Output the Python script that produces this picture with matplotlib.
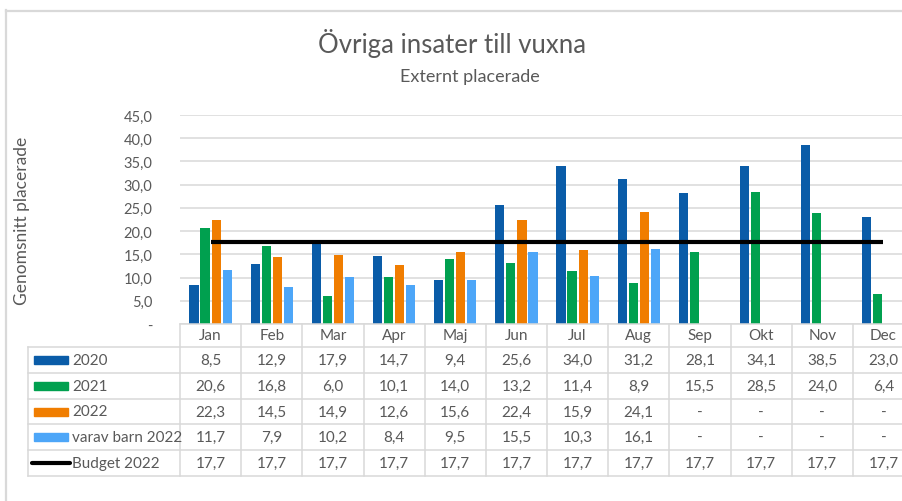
import matplotlib.pyplot as plt
from matplotlib.lines import Line2D
from matplotlib.patches import Rectangle

plt.rcParams['font.family'] = ['Lato', 'DejaVu Sans']

months = ["Jan", "Feb", "Mar", "Apr", "Maj", "Jun", "Jul", "Aug", "Sep", "Okt", "Nov", "Dec"]
v2020 = [8.5, 12.9, 17.9, 14.7, 9.4, 25.6, 34.0, 31.2, 28.1, 34.1, 38.5, 23.0]
v2021 = [20.6, 16.8, 6.0, 10.1, 14.0, 13.2, 11.4, 8.9, 15.5, 28.5, 24.0, 6.4]
v2022 = [22.3, 14.5, 14.9, 12.6, 15.6, 22.4, 15.9, 24.1, None, None, None, None]
barn2022 = [11.7, 7.9, 10.2, 8.4, 9.5, 15.5, 10.3, 16.1, None, None, None, None]
budget = [17.7] * 12

bar_series = [
    ("2020", v2020, "#0a5ca8"),
    ("2021", v2021, "#00a04f"),
    ("2022", v2022, "#f07d00"),
    ("varav barn 2022", barn2022, "#4da6f8"),
]

TXT = "#595959"
GRID = "#d9d9d9"
W, H = 903, 502


def box(x0, y0, x1, y1):
    # pixel box (top-left origin) -> figure fraction
    return [x0 / W, 1 - y1 / H, (x1 - x0) / W, (y1 - y0) / H]


fig = plt.figure(figsize=(W / 100, H / 100), dpi=100)

# ram runt diagrammet
fig.add_artist(Line2D([6 / W, 1], [1 - 11.5 / H] * 2, color=GRID, lw=1.6))
fig.add_artist(Line2D([6.5 / W] * 2, [0, 1 - 11 / H], color=GRID, lw=1.6))

# plot area
left_px, right_px = 180, 914
colw = (right_px - left_px) / 12
ax = fig.add_axes(box(left_px, 116, right_px, 325))
ax.set_xlim(-0.5, 11.5)
ax.set_ylim(0, 45)
ax.set_yticks(range(0, 50, 5))
ax.set_yticklabels(["-" if t == 0 else f"{t:.1f}".replace(".", ",") for t in range(0, 50, 5)])
ax.tick_params(axis="y", length=0, pad=20, labelsize=10.5, labelcolor=TXT)
ax.set_xticks([])
for s in ax.spines.values():
    s.set_visible(False)
ax.yaxis.grid(True, color=GRID, lw=1.1)
ax.set_axisbelow(True)

step = 0.18
bw = 0.15
for k, (name, vals, col) in enumerate(bar_series):
    off = (k - 1.5) * step
    xs = [i + off for i, v in enumerate(vals) if v is not None]
    ys = [v for v in vals if v is not None]
    ax.bar(xs, ys, width=bw, color=col, zorder=2)

ax.plot(range(12), budget, color="black", lw=3, zorder=3, solid_capstyle="butt")

ax.text(-0.5 - (left_px - 22) / colw, 22.5, "Genomsnitt placerade", rotation=90,
        ha="center", va="center", fontsize=12.5, color=TXT, transform=ax.transData, clip_on=False)

# datatabell
rows_y = [325, 348, 374, 400, 425, 451, 477]
tab = fig.add_axes(box(left_px, 325, right_px, 477))
tab.set_xlim(-0.5, 11.5)
tab.set_ylim(477, 325)
tab.axis("off")


def xd(p):
    return -0.5 + (p - left_px) / colw


leg_left = xd(28)
tab.plot([-0.5, 11.5], [rows_y[0]] * 2, color=GRID, lw=1.1, clip_on=False)
for y in rows_y[1:]:
    tab.plot([leg_left, 11.5], [y, y], color=GRID, lw=1.1, clip_on=False)
for k in range(13):
    tab.plot([k - 0.5] * 2, [rows_y[0], rows_y[-1]], color=GRID, lw=1.1, clip_on=False)
tab.plot([leg_left] * 2, [rows_y[1], rows_y[-1]], color=GRID, lw=1.1, clip_on=False)

for i, m in enumerate(months):
    tab.text(i, (rows_y[0] + rows_y[1]) / 2, m, ha="center", va="center",
             fontsize=11, color=TXT, clip_on=False)

table_rows = [(n, v, c) for n, v, c in bar_series] + [("Budget 2022", budget, "black")]
for r, (name, vals, col) in enumerate(table_rows):
    yc = (rows_y[r + 1] + rows_y[r + 2]) / 2
    if name == "Budget 2022":
        tab.plot([xd(32), xd(70)], [yc, yc], color=col, lw=3, clip_on=False,
                 solid_capstyle="round")
    else:
        tab.add_patch(Rectangle((xd(34), yc - 4), xd(68) - xd(34), 8, color=col, clip_on=False))
    tab.text(xd(72), yc, name, ha="left", va="center", fontsize=11, color=TXT, clip_on=False)
    for i, v in enumerate(vals):
        s = "-" if v is None else f"{v:.1f}".replace(".", ",")
        tab.text(i, yc, s, ha="center", va="center", fontsize=11, color=TXT, clip_on=False)

fig.text(452 / W, 1 - 44 / H, "Övriga insater till vuxna", ha="center", va="center",
         fontsize=18.5, color=TXT)
fig.text(470 / W, 1 - 77 / H, "Externt placerade", ha="center", va="center",
         fontsize=13, color=TXT)

fig.savefig("out.png", dpi=100)
